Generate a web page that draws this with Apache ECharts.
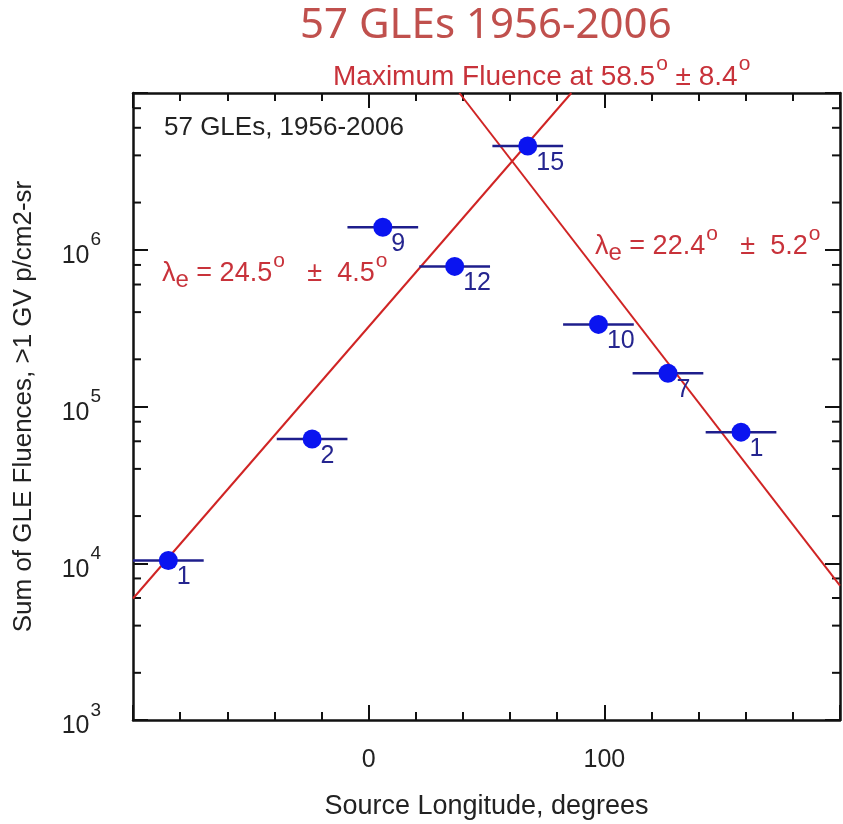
<!DOCTYPE html>
<html><head><meta charset="utf-8">
<script src="https://cdn.jsdelivr.net/npm/echarts@6/dist/echarts.min.js"></script>
<style>html,body{margin:0;padding:0;background:#fff}#c{width:843px;height:824px}</style>
</head><body><div id="c"></div>
<script>
// ---- data ----
const longitudes = [-85, -24, 6, 36.5, 67.5, 97.5, 127, 158];
const fluences = [1.04e4, 6.2e4, 1.39e6, 7.83e5, 4.59e6, 3.34e5, 1.63e5, 6.86e4];
const eventCounts = [1, 2, 9, 12, 15, 10, 7, 1];
const binHalfWidths = [15, 15, 15, 15, 15, 15, 15, 15];
const westFitLine = [[-100, 5.96e3], [86, 1e7]];
const eastFitLine = [[38.5, 1e7], [200, 7.2e3]];
const yMinorTickValues = [2e3,4e3,6e3,8e3, 2e4,4e4,6e4,8e4, 2e5,4e5,6e5,8e5, 2e6,4e6,6e6,8e6];
const xTickLabels = {0: '0', 100: '100'};
const yHiddenExponents = [7];

const AX = '#111';
const RED = '#c8323a';
const FONT = 'Liberation Sans';

const chart = echarts.init(document.getElementById('c'), null, {renderer: 'canvas'});

function xAxisCfg(pos, showLabel) {
  return {
    type: 'value', position: pos, min: -100, max: 200, interval: 100,
    axisLine: {show: true, onZero: false, lineStyle: {color: AX, width: 2.5}},
    axisTick: {show: true, inside: true, length: 15, lineStyle: {color: AX, width: 2}},
    minorTick: {show: true, splitNumber: 5, length: 8, lineStyle: {color: AX, width: 2}},
    splitLine: {show: false},
    axisLabel: {show: showLabel, margin: 28, color: '#222', fontFamily: FONT, fontSize: 25,
      formatter: v => (xTickLabels[v] !== undefined ? xTickLabels[v] : '')},
    name: showLabel ? 'Source Longitude, degrees' : '',
    nameLocation: 'middle', nameGap: 73,
    nameTextStyle: {color: '#222', fontFamily: FONT, fontSize: 27}
  };
}
function yAxisCfg(pos, showLabel) {
  return {
    type: 'log', logBase: 10, position: pos, min: 1e3, max: 1e7,
    axisLine: {show: true, onZero: false, lineStyle: {color: AX, width: 2.5}},
    axisTick: {show: true, inside: true, length: 15, lineStyle: {color: AX, width: 2}},
    minorTick: {show: false},
    splitLine: {show: false},
    axisLabel: {show: showLabel, margin: 32, color: '#222', fontFamily: FONT,
      formatter: v => {
        const e = Math.round(Math.log10(v));
        if (yHiddenExponents.indexOf(e) >= 0) return '';
        return '{b|10}{s|' + e + '}';
      },
      rich: {
        b: {fontSize: 25, fontFamily: FONT, color: '#222', verticalAlign: 'top', padding: [13,0,0,0]},
        s: {fontSize: 19, fontFamily: FONT, color: '#222', verticalAlign: 'top', padding: [0,0,0,1]}
      }},
    name: showLabel ? 'Sum of GLE Fluences, >1 GV p/cm2-sr' : '',
    nameLocation: 'middle', nameGap: 96, nameRotate: 90,
    nameTextStyle: {color: '#222', fontFamily: FONT, fontSize: 26}
  };
}

function supText(parts) {
  return parts.map(p => '{' + p[0] + '|' + p[1] + '}').join('');
}
function annRich(size) {
  return {
    a: {fontSize: size, fontFamily: FONT, fill: RED, verticalAlign: 'top', padding: [9,0,0,0]},
    s: {fontSize: Math.round(size * 0.76), fontFamily: FONT, fill: RED, verticalAlign: 'top', padding: [0,0,0,1]},
    e: {fontSize: Math.round(size * 0.88), fontFamily: FONT, fill: RED, verticalAlign: 'top', padding: [17,0,0,0]}
  };
}

const option = {
  backgroundColor: '#fff',
  animation: false,
  grid: {left: 133, right: 3, top: 93, bottom: 104, containLabel: false, outerBoundsMode: 'none'},
  xAxis: [xAxisCfg('bottom', true), xAxisCfg('top', false)],
  yAxis: [yAxisCfg('left', true), yAxisCfg('right', false)],
  graphic: [
    {type: 'text', x: 300, y: 5, style: {text: '57 GLEs 1956-2006', fill: '#c0504d',
      font: '42px "Noto Sans"'}},
    {type: 'text', x: 333, y: 54, style: {
      text: supText([['a','Maximum Fluence at 58.5'],['s','o'],['a',' ± 8.4'],['s','o']]),
      rich: annRich(28)}},
    {type: 'text', x: 164, y: 115, style: {text: '57 GLEs, 1956-2006', fill: '#222',
      font: '26px "Liberation Sans"'}},
    {type: 'text', x: 162, y: 251, style: {
      text: supText([['a','λ'],['e','e'],['a',' = 24.5'],['s','o'],['a','   ±  4.5'],['s','o']]),
      rich: annRich(27)}},
    {type: 'text', x: 595, y: 224, style: {
      text: supText([['a','λ'],['e','e'],['a',' = 22.4'],['s','o'],['a','   ±  5.2'],['s','o']]),
      rich: annRich(27)}}
  ],
  series: [
    {
      type: 'custom', name: 'yMinorTicks', xAxisIndex: 0, yAxisIndex: 0, silent: true, clip: false,
      data: yMinorTickValues.map(v => [-100, v]),
      renderItem: (params, api) => {
        const v = api.value(1);
        const l = api.coord([-100, v]);
        const r = api.coord([200, v]);
        const st = {stroke: AX, lineWidth: 2};
        return {type: 'group', children: [
          {type: 'line', shape: {x1: l[0], y1: l[1], x2: l[0] + 8, y2: l[1]}, style: st},
          {type: 'line', shape: {x1: r[0], y1: r[1], x2: r[0] - 8, y2: r[1]}, style: st}
        ]};
      }
    },
    {
      type: 'line', name: 'west', data: westFitLine, showSymbol: false, symbol: 'none',
      lineStyle: {color: '#d02424', width: 2}, clip: true, z: 3
    },
    {
      type: 'line', name: 'east', data: eastFitLine, showSymbol: false, symbol: 'none',
      lineStyle: {color: '#d02424', width: 2}, clip: true, z: 3
    },
    {
      type: 'custom', name: 'errorBars', xAxisIndex: 0, yAxisIndex: 0, z: 4,
      data: longitudes.map((x, i) => [x, fluences[i], binHalfWidths[i]]),
      renderItem: (params, api) => {
        const x = api.value(0), y = api.value(1), h = api.value(2);
        const a = api.coord([x - h, y]);
        const b = api.coord([x + h, y]);
        return {type: 'line', shape: {x1: a[0], y1: a[1], x2: b[0], y2: b[1]},
          style: {stroke: '#1e1e8c', lineWidth: 2.5}};
      }
    },
    {
      type: 'scatter', name: 'fluence', z: 5,
      data: longitudes.map((x, i) => [x, fluences[i]]),
      symbol: 'circle', symbolSize: 19,
      itemStyle: {color: '#0a14f0', opacity: 1},
      label: {show: true, position: 'right', distance: -1, offset: [0, 17], opacity: 1,
        formatter: p => String(eventCounts[p.dataIndex]),
        color: '#25258f', fontFamily: FONT, fontSize: 25}
    }
  ]
};
chart.setOption(option);
</script></body></html>
